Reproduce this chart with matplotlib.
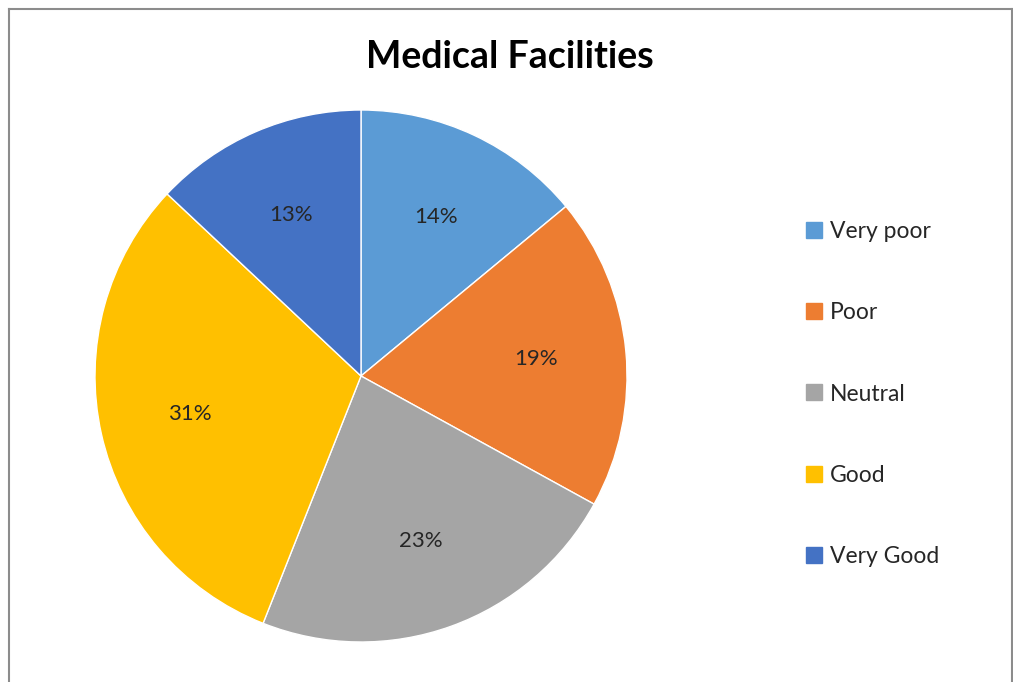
import matplotlib.pyplot as plt
from matplotlib.lines import Line2D

# data
categories = ['Very poor', 'Poor', 'Neutral', 'Good', 'Very Good']
shares = [14, 19, 23, 31, 13]
colors = ['#5B9BD5', '#ED7D31', '#A5A5A5', '#FFC000', '#4472C4']

W, H = 1013, 682
plt.rcParams['font.family'] = ['Lato', 'DejaVu Sans']

fig = plt.figure(figsize=(W / 100, H / 100), dpi=100)

# pie axes: centre ~(361, 376) px, radius ~266 px
cx, cy, r = 361, 376, 266
ax = fig.add_axes([(cx - r) / W, (H - cy - r) / H, 2 * r / W, 2 * r / H])
wedges, texts, autotexts = ax.pie(shares, colors=colors, startangle=90, counterclock=False,
                                  autopct='%1.0f%%', pctdistance=0.66,
                                  wedgeprops=dict(linewidth=1.0, edgecolor='white'),
                                  textprops=dict(fontsize=16, color='#262626'))
ax.set_xlim(-1, 1)
ax.set_ylim(-1, 1)
ax.set_aspect('equal')

fig.text(510 / W, 1 - 57 / H, 'Medical Facilities', ha='center', va='center',
         fontsize=27, fontweight='bold', color='black')

handles = [Line2D([], [], marker='s', linestyle='', markersize=11, color=c) for c in colors]
fig.legend(handles, categories, loc='center left', bbox_to_anchor=(784 / W, 1 - 394 / H),
           frameon=False, fontsize=16.5, labelspacing=2.62, handlelength=0.8, handletextpad=0.3,
           labelcolor='#262626')

# chart border (bottom edge falls outside the picture)
border = dict(color='#8c8c8c', linewidth=1.5)
fig.add_artist(Line2D([8.5 / W, 8.5 / W], [0, 1 - 9 / H], transform=fig.transFigure, **border))
fig.add_artist(Line2D([8.5 / W, 1011.5 / W], [1 - 9 / H, 1 - 9 / H], transform=fig.transFigure, **border))
fig.add_artist(Line2D([1011.5 / W, 1011.5 / W], [0, 1 - 9 / H], transform=fig.transFigure, **border))

fig.savefig('out.png', dpi=100)
